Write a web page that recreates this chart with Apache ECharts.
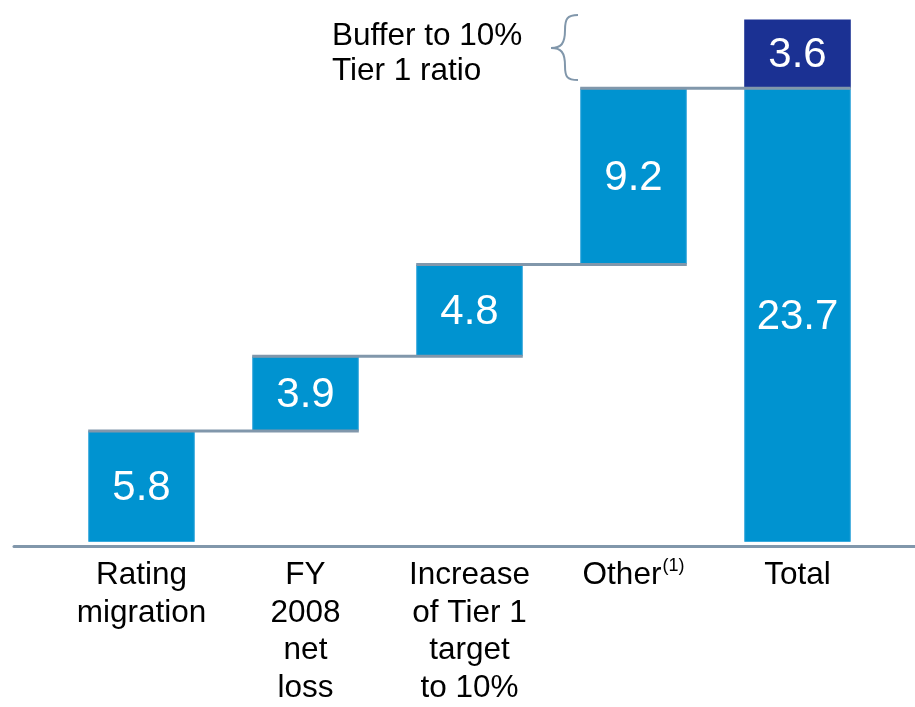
<!DOCTYPE html>
<html><head><meta charset="utf-8">
<script src="https://cdn.jsdelivr.net/npm/echarts@6/dist/echarts.min.js"></script>
<style>html,body{margin:0;padding:0;background:#fff}#c{width:915px;height:707px}</style>
</head><body><div id="c"></div>
<script>
const categories = ['Rating\nmigration', 'FY\n2008\nnet\nloss', 'Increase\nof Tier 1\ntarget\nto 10%', 'Other', 'Total'];
const values = [5.8, 3.9, 4.8, 9.2, 23.7];
const bufferValues = [null, null, null, null, 3.6];
const isTotal = [false, false, false, false, true];
const annotationText = 'Buffer to 10%\nTier 1 ratio';

const bases = [];
let run = 0;
values.forEach((v, i) => { if (isTotal[i]) { bases.push(0); } else { bases.push(run); run += v; } });
const connectors = [];
values.forEach((v, i) => { if (!isTotal[i]) connectors.push([i, bases[i] + v]); });

const blue = '#0093D0', dark = '#1B3193', gray = '#8197AB';
const FONT = 'Liberation Sans, Arial, sans-serif';
const BW = 0.65;

function bz(x1, y1, cx1, cy1, cx2, cy2, x2, y2) {
  return {type: 'bezierCurve', shape: {x1, y1, cpx1: cx1, cpy1: cy1, cpx2: cx2, cpy2: cy2, x2, y2},
          style: {fill: null, stroke: gray, lineWidth: 2}};
}

const chart = echarts.init(document.getElementById('c'), null, {renderer: 'canvas'});
chart.setOption({
  animation: false,
  textStyle: {fontFamily: FONT},
  grid: [
    {left: 59.5, right: 35.5, top: 6, bottom: 161},
    {left: 14, right: 0, top: 6, bottom: 161}
  ],
  xAxis: [
    {type: 'category', gridIndex: 0, data: categories,
     axisLine: {show: false}, axisTick: {show: false},
     axisLabel: {interval: 0, color: '#000', fontSize: 31.5, lineHeight: 37.5, margin: 15, fontFamily: FONT,
       formatter: v => v === 'Other' ? 'Other{sup|(1)}' : v,
       rich: {sup: {fontSize: 18, verticalAlign: 'top', lineHeight: 37.5, color: '#000', fontFamily: FONT, padding: [0,0,0,1]}}}},
    {type: 'category', gridIndex: 1, data: [],
     axisLine: {show: true, lineStyle: {color: gray, width: 3}}, axisTick: {show: false}, axisLabel: {show: false}}
  ],
  yAxis: [
    {type: 'value', gridIndex: 0, min: 0, max: 28, show: false},
    {type: 'value', gridIndex: 1, min: 0, max: 28, show: false}
  ],
  series: [
    {type: 'bar', stack: 's', data: bases, barWidth: (BW*100)+'%', itemStyle: {color: 'transparent'}, silent: true},
    {type: 'bar', stack: 's', data: values, barWidth: (BW*100)+'%',
     itemStyle: {color: blue, borderColor: '#3aa9dc', borderWidth: 1},
     label: {show: true, position: 'inside', offset: [0, 2], color: '#fff', fontSize: 42, fontFamily: FONT, formatter: p => p.value.toFixed(1)}},
    {type: 'bar', stack: 's', data: bufferValues, barWidth: (BW*100)+'%',
     itemStyle: {color: dark},
     label: {show: true, position: 'inside', offset: [0, 2], color: '#fff', fontSize: 42, fontFamily: FONT, formatter: p => p.value == null ? '' : p.value.toFixed(1)}},
    {type: 'custom', data: connectors, z: 5,
     renderItem: function (params, api) {
       const p = api.coord([api.value(0), api.value(1)]);
       const step = api.size([1, 0])[0];
       const half = step * BW / 2;
       return {type: 'line', shape: {x1: p[0] - half, y1: p[1], x2: p[0] + step + half, y2: p[1]},
               style: {stroke: gray, lineWidth: 3}};
     }}
  ],
  graphic: [
    {type: 'text', x: 332, y: 19, style: {text: annotationText, fill: '#000', font: '31.5px ' + FONT, lineHeight: 35}},
    bz(578, 15, 567, 15, 565, 19, 565, 30),
    bz(565, 30, 565, 44, 561, 48, 551, 48),
    bz(551, 48, 561, 48, 565, 52, 565, 66),
    bz(565, 66, 565, 77, 567, 80, 578, 80)
  ]
});
</script></body></html>
